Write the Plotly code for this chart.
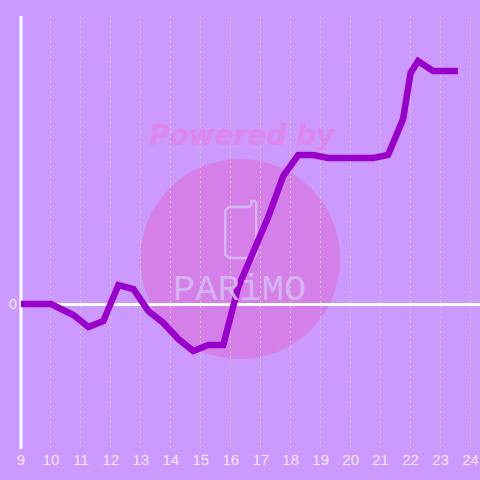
import plotly.graph_objects as go

hours = [8.9, 9, 10, 10.75, 11.25, 11.75, 12.25, 12.75, 13.25, 13.75, 14.25, 14.75, 15.25, 15.75,
         16.25, 16.75, 17.25, 17.75, 18.25, 18.75, 19.25, 19.75, 20.25, 20.75, 21.25, 21.75,
         22, 22.25, 22.75, 23.25, 23.58]
values = [0, 0, 0, -0.11, -0.23, -0.17, 0.19, 0.15, -0.07, -0.19, -0.35, -0.47, -0.41, -0.41,
          0.17, 0.52, 0.87, 1.28, 1.49, 1.49, 1.46, 1.46, 1.46, 1.46, 1.49, 1.85,
          2.31, 2.43, 2.33, 2.33, 2.33]
tick_hours = list(range(9, 25))
tick_labels = [str(h) for h in tick_hours]
brand_top = "Powered by"
brand_name = "PARiMO"

L, T, B = 20.5, 16, 31
PW = 480.0 - L
PH = 480.0 - T - B
def px(x): return (x - L) / PW
def py(y): return 1 - (y - T) / PH

BG = "#cc99ff"
fig = go.Figure()
fig.add_trace(go.Scatter(x=hours, y=values, mode="lines", cliponaxis=False,
                         line=dict(color="#9900cc", width=6.5, shape="linear"),
                         hoverinfo="skip", showlegend=False))

LOGO = "rgba(214,190,245,0.85)"
shapes = [
    dict(type="circle", xref="paper", yref="paper", x0=px(140), x1=px(340), y0=py(359), y1=py(159),
         fillcolor="#d580e8", line=dict(width=0), layer="below"),
    dict(type="path", xref="paper", yref="paper", layer="below",
         path=f"M {px(229)} {py(207)} L {px(249)} {py(207)} L {px(251)} {py(205)} L {px(251)} {py(201)} "
              f"L {px(255)} {py(201)} L {px(256)} {py(203)} L {px(256)} {py(254)} L {px(254)} {py(258)} "
              f"L {px(229)} {py(258)} L {px(225)} {py(255)} L {px(225)} {py(210)} Z",
         line=dict(color=LOGO, width=2.5), fillcolor="rgba(0,0,0,0)"),
    dict(type="line", xref="paper", yref="paper", x0=0, x1=0, y0=0, y1=1, layer="below",
         line=dict(color="#ffffff", width=3)),
]
fig.update_layout(
    width=480, height=480, autosize=False,
    margin=dict(l=L, r=0, t=T, b=B),
    paper_bgcolor=BG, plot_bgcolor="rgba(0,0,0,0)",
    showlegend=False,
    shapes=shapes,
    annotations=[
        dict(text=f"<b><i>{brand_top}</i></b>", xref="paper", yref="paper", x=px(242), y=py(135),
             showarrow=False, xanchor="center", yanchor="middle",
             font=dict(family="DejaVu Sans", size=28, color="#dd86ec")),
        dict(text=brand_name, xref="paper", yref="paper", x=px(239), y=py(290),
             showarrow=False, xanchor="center", yanchor="middle",
             font=dict(family="Liberation Mono", size=37, color=LOGO)),
    ],
    xaxis=dict(range=[9, 9 + PW / 30], tickmode="array", tickvals=tick_hours, ticktext=tick_labels,
               showgrid=True, gridcolor="rgba(205,228,170,0.75)", griddash="2px,3px", gridwidth=1, showline=False,
               zeroline=False, ticks="", ticklen=0, tickangle=0,
               tickfont=dict(family="Liberation Sans", size=15, color="#f3e6ff")),
    yaxis=dict(range=[-1.45, 2.88], tickmode="array", tickvals=[0], ticktext=["0"],
               showgrid=True, gridcolor="#ffffff", gridwidth=3,
               zeroline=False, showline=False, ticks="", ticklabelstandoff=3,
               tickfont=dict(family="Liberation Sans", size=15, color="#f3e6ff")),
)
fig.write_html("out.html", config={"displayModeBar": False},
               post_script="document.documentElement.style.background='#cc99ff';document.body.style.margin='0';")
